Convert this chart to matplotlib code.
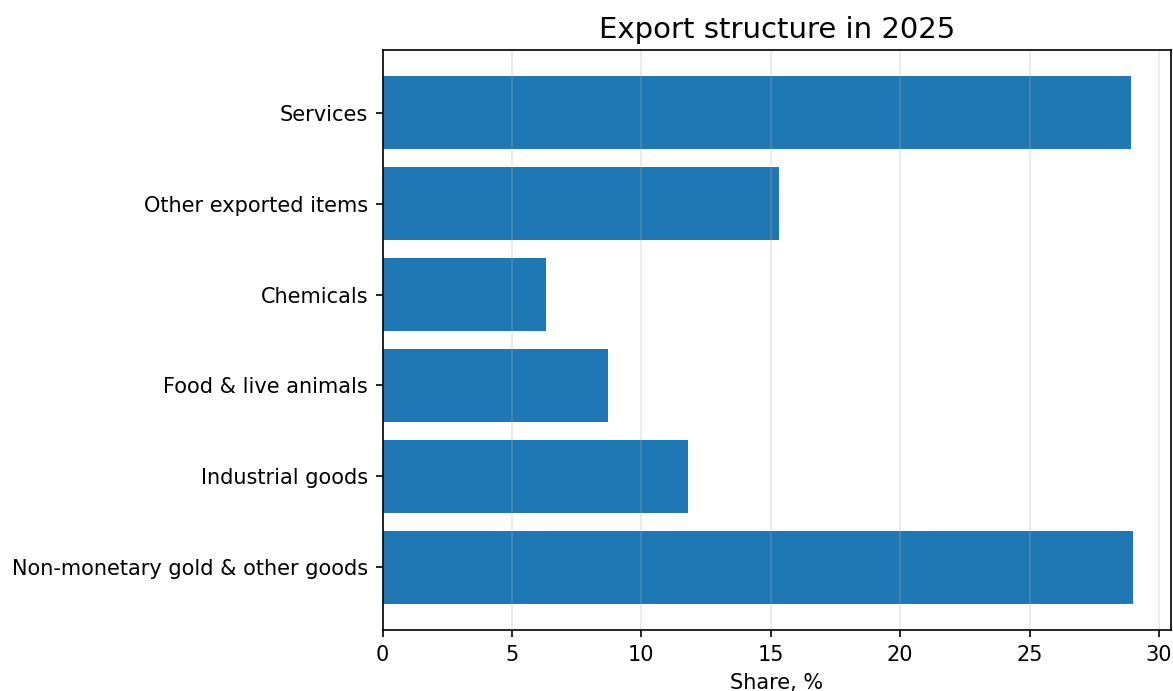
import matplotlib
matplotlib.use('Agg')
import matplotlib.pyplot as plt

# data
categories = [
    'Non-monetary gold & other goods', 'Industrial goods', 'Food & live animals',
    'Chemicals', 'Other exported items', 'Services'
]
shares = [29.0, 11.8, 8.7, 6.3, 15.3, 28.9]
xticks = [0, 5, 10, 15, 20, 25, 30]

fig = plt.figure(figsize=(7.82, 4.607), dpi=150)
ax = fig.add_axes([0.3262, 0.0883, 0.6718, 0.8393])

ax.barh(categories, shares, color='#1f77b4')
ax.grid(axis='x', alpha=0.3)
ax.set_xticks(xticks)
ax.tick_params(labelsize=10)
ax.set_xlabel('Share, %', fontsize=10)
ax.set_title('Export structure in 2025', fontsize=14)

fig.savefig('out.png', dpi=150)
